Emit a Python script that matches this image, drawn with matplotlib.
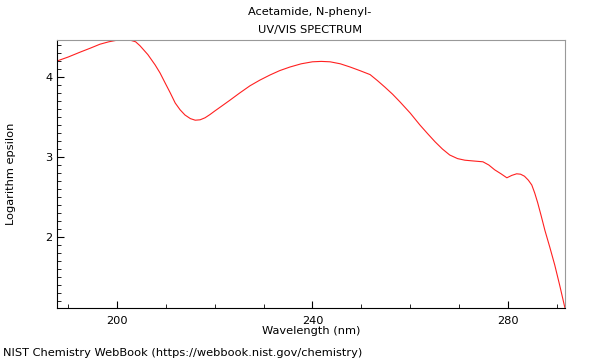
import numpy as np
import matplotlib.pyplot as plt
from matplotlib.ticker import MultipleLocator

# Wavelength (nm) and log epsilon
wavelength = [187.7, 190.0, 192.4, 194.5, 196.5, 198.3, 200.0, 201.5, 202.7, 203.8,
              204.7, 206.3, 207.8, 208.8, 209.8, 210.9, 211.9, 212.9, 213.9, 215.0,
              216.0, 217.0, 218.0, 219.0, 220.0, 221.5, 223.1, 225.1, 227.2, 229.2,
              231.3, 233.3, 235.4, 237.7, 240.0, 241.8, 243.6, 245.7, 247.7, 249.7,
              251.8, 253.3, 254.8, 256.4, 257.9, 260.0, 262.0, 263.6, 265.1, 266.6,
              268.1, 269.7, 271.2, 273.0, 274.9, 276.1, 277.3, 278.6, 279.8, 280.8,
              281.8, 282.6, 283.4, 284.2, 284.9, 285.5, 286.1, 286.8, 287.6, 288.6,
              289.6, 290.6, 291.7]
log_eps = [4.20, 4.25, 4.31, 4.36, 4.41, 4.44, 4.46, 4.465, 4.46, 4.44,
           4.39, 4.28, 4.15, 4.05, 3.93, 3.80, 3.675, 3.59, 3.525, 3.48,
           3.46, 3.465, 3.49, 3.53, 3.575, 3.64, 3.71, 3.80, 3.89, 3.96,
           4.025, 4.08, 4.125, 4.165, 4.19, 4.195, 4.19, 4.165, 4.125, 4.08,
           4.03, 3.955, 3.875, 3.785, 3.69, 3.55, 3.40, 3.29, 3.19, 3.10,
           3.025, 2.98, 2.96, 2.95, 2.94, 2.90, 2.84, 2.79, 2.74, 2.77,
           2.79, 2.785, 2.76, 2.71, 2.65, 2.55, 2.43, 2.27, 2.08, 1.87,
           1.65, 1.40, 1.11]

FS = 8.2

fig = plt.figure(figsize=(6, 3.6), dpi=100)
ax = fig.add_axes([57 / 600, 52 / 360, 508 / 600, 268 / 360])

ax.plot(wavelength, log_eps, color="#ff2020", linewidth=0.8)

ax.set_xlim(187.7, 291.7)
ax.set_ylim(1.1125, 4.4625)
ax.xaxis.set_major_locator(MultipleLocator(40))
ax.xaxis.set_minor_locator(MultipleLocator(10))
ax.yaxis.set_major_locator(MultipleLocator(1))
ax.yaxis.set_minor_locator(MultipleLocator(0.1))
ax.tick_params(which="both", direction="in", labelsize=FS, top=False, right=False)
ax.tick_params(which="major", length=5)
ax.tick_params(which="minor", length=3)
ax.tick_params(axis="x", which="major", pad=6)

for side in ("top", "right"):
    ax.spines[side].set_color("#999999")

ax.set_xlabel("Wavelength (nm)", fontsize=FS)
ax.set_ylabel("Logarithm epsilon", fontsize=FS)
ax.xaxis.set_label_coords(0.5, (308 - 331) / 268)
ax.yaxis.set_label_coords((11 - 57) / 508, 0.5)
ax.xaxis.label.set_va("center")
ax.yaxis.label.set_va("center")

fig.text(310 / 600, 1 - 12 / 360, "Acetamide, N-phenyl-", fontsize=FS, ha="center", va="center")
fig.text(310 / 600, 1 - 30 / 360, "UV/VIS SPECTRUM", fontsize=FS, ha="center", va="center")
fig.text(3 / 600, 1 - 353 / 360, "NIST Chemistry WebBook (https://webbook.nist.gov/chemistry)",
         fontsize=FS, ha="left", va="center")

fig.savefig("out.png", dpi=100)
